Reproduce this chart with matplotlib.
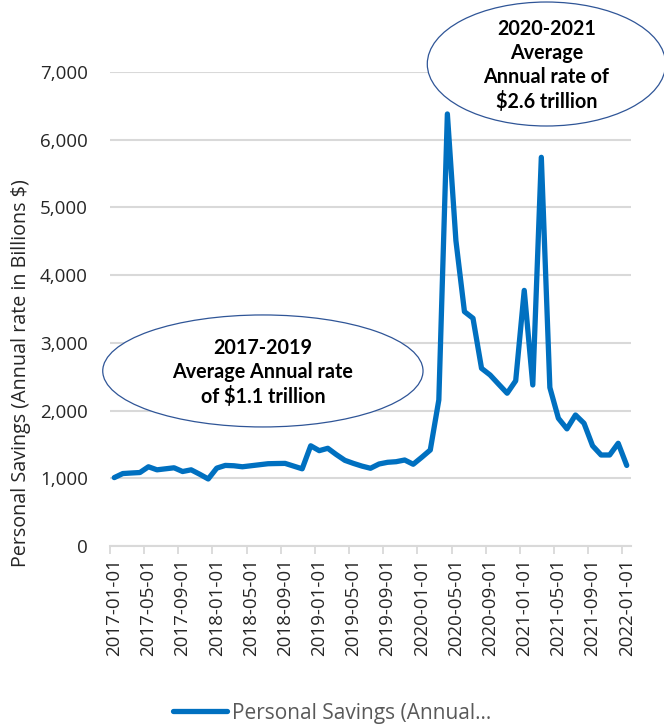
import numpy as np
import pandas as pd
import matplotlib
matplotlib.use("Agg")
import matplotlib.pyplot as plt
from matplotlib.patches import Ellipse
from matplotlib.ticker import FuncFormatter

plt.rcParams["font.family"] = ["Open Sans", "DejaVu Sans"]

# monthly personal savings, billions of $ (annual rate), Jan 2017 .. Jan 2022
months = pd.date_range("2017-01-01", "2022-01-01", freq="MS").strftime("%Y-%m-%d").tolist()
savings = [
    1010, 1070, 1078, 1085, 1170, 1125, 1140, 1155, 1100, 1125, 1060, 990,
    1150, 1190, 1185, 1170, 1185, 1200, 1215, 1218, 1220, 1180, 1140, 1480,
    1408, 1443, 1350, 1265, 1220, 1180, 1148, 1211, 1236, 1245, 1270, 1207,
    1310, 1418, 2157, 6380, 4510, 3461, 3363, 2624, 2526, 2390, 2256, 2440,
    3775, 2378, 5740, 2340, 1886, 1730, 1935, 1812, 1480, 1344, 1344, 1517,
    1190,
]
label_step = 4
series_name = "Personal Savings (Annual\u2026"
note_early = "2017-2019\nAverage Annual rate\nof $1.1 trillion"
note_late = "2020-2021\nAverage\nAnnual rate of\n$2.6 trillion"

BLUE = "#0070C0"
GRID = "#D9D9D9"
TXT = "#262626"

fig = plt.figure(figsize=(6.64, 7.27), dpi=100)
ax = fig.add_axes([110 / 664, 181 / 727, 521 / 664, 474 / 727])

x = np.arange(len(savings))
ax.plot(x, savings, color=BLUE, lw=3.8, solid_joinstyle="round",
        solid_capstyle="round", label=series_name, zorder=3)

ax.set_xlim(-0.5, len(savings) - 0.5)
ax.set_ylim(0, 7000)
ax.set_yticks(range(0, 7001, 1000))
ax.yaxis.set_major_formatter(FuncFormatter(lambda v, p: f"{v:,.0f}"))
ax.grid(axis="y", color=GRID, lw=1.5, zorder=0)
ax.set_axisbelow(True)

# labels on the categories, tick marks on the boundaries (Excel style)
ax.set_xticks(x[::label_step])
ax.set_xticklabels(months[::label_step], rotation=90)
ax.set_xticks(x[::label_step] - 0.5, minor=True)
ax.tick_params(axis="x", which="major", length=0, pad=9, labelsize=13.5, labelcolor=TXT)
ax.tick_params(axis="x", which="minor", length=6, width=1.3, color=GRID)
ax.tick_params(axis="y", length=0, pad=16, labelsize=13.5, labelcolor=TXT)

for s in ["left", "right", "top"]:
    ax.spines[s].set_visible(False)
ax.spines["bottom"].set_color(GRID)
ax.spines["bottom"].set_linewidth(1.5)

ax.set_ylabel("Personal Savings (Annual rate in Billions $)", fontsize=14.2, color=TXT)
ax.yaxis.set_label_coords(-0.151, 0.365)

# callout bubbles
for cx, cy, w, h, txt in [(17.4, 2585, 37.5, 1654, note_early),
                          (50.6, 7118, 27.9, 1831, note_late)]:
    ax.add_patch(Ellipse((cx, cy), w, h, facecolor="white", edgecolor="#2F5597",
                         lw=0.9, clip_on=False, zorder=4))
    ax.text(cx, cy - 25, txt, ha="center", va="center", fontsize=14.2, fontweight="bold",
            family=["Lato", "DejaVu Sans"], linespacing=1.25, zorder=5, clip_on=False)

fig.legend(loc="center", bbox_to_anchor=(0.5, 14 / 727), frameon=False,
           fontsize=15, handlelength=2.6, handletextpad=0.25, labelcolor="#595959")

fig.savefig("out.png", dpi=100)
